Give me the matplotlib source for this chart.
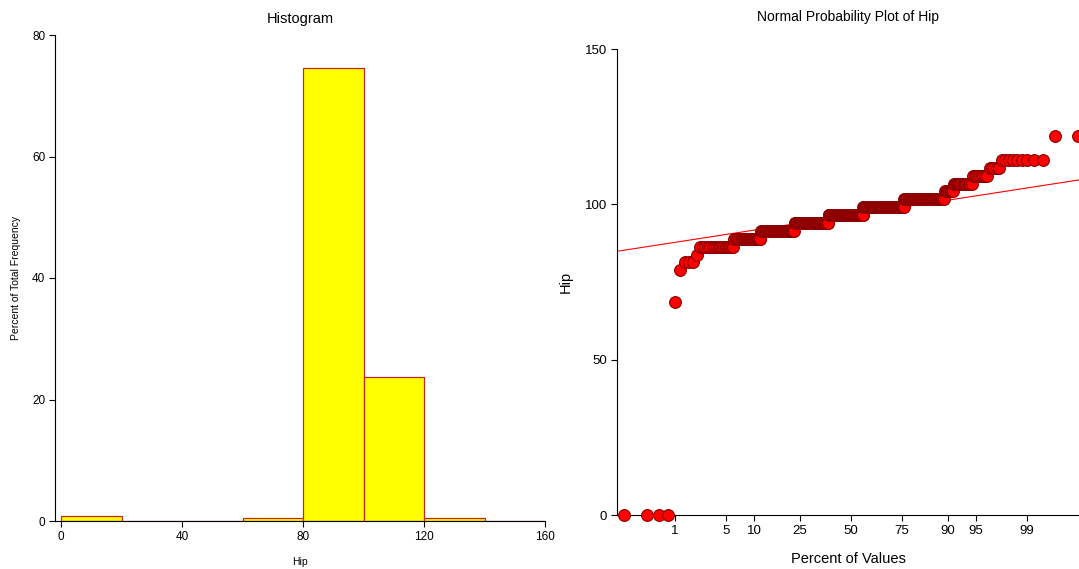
import numpy as np
import matplotlib
matplotlib.use("Agg")
import matplotlib.pyplot as plt
from statistics import NormalDist

plt.rcParams['font.family'] = ['Liberation Sans', 'DejaVu Sans']

hip_levels = [0.0, 68.58, 78.74, 81.28, 83.82, 86.36, 88.9, 91.44, 93.98, 96.52,
              99.06, 101.6, 104.14, 106.68, 109.22, 111.76, 114.3, 121.92]
hip_counts = [4, 1, 1, 3, 1, 18, 26, 51, 72, 84, 90, 62, 9, 16, 9, 5, 9, 2]

bin_edges = [0, 20, 40, 60, 80, 100, 120, 140, 160]
hist_xticks = [0, 40, 80, 120, 160]
hist_yticks = [0, 20, 40, 60, 80]
pct_ticks = [1, 5, 10, 25, 50, 75, 90, 95, 99]
npp_yticks = [0, 50, 100, 150]

hip = np.repeat(hip_levels, hip_counts)
n = len(hip)
nd = NormalDist()

fig = plt.figure(figsize=(10.79, 5.69), dpi=100)

# ---- histogram ----
ax1 = fig.add_axes([55/1079, 1-521/569, 490/1079, 486/569])
ax1.hist(hip, bins=bin_edges, weights=np.full(n, 100.0/n),
         color='#FFFF00', edgecolor='#C0282D', linewidth=0.9)
ax1.set_xlim(-2, 160)
ax1.set_ylim(0, 80)
ax1.set_xticks(hist_xticks)
ax1.set_yticks(hist_yticks)
ax1.spines['top'].set_visible(False)
ax1.spines['right'].set_visible(False)
ax1.tick_params(labelsize=8.5, length=4, width=0.8, pad=3)
ax1.set_title("Histogram", fontsize=10.5, pad=9)
ax1.set_xlabel("Hip", fontsize=7.5, labelpad=10)
ax1.set_ylabel("Percent of Total Frequency", fontsize=7.5, labelpad=8)

# ---- normal probability plot ----
ax2 = fig.add_axes([617/1079, 1-515/569, 462/1079, 466/569])
ranks = np.arange(1, n + 1)
z = np.array([nd.inv_cdf(p) for p in (ranks - 0.375) / (n + 0.25)])

q1, q3 = np.percentile(hip, [25, 75])
slope = (q3 - q1) / (2 * nd.inv_cdf(0.75))
ax2.axline((0, (q1 + q3) / 2), slope=slope, color='#FF0000', linewidth=0.8, zorder=2)

ax2.scatter(z, np.sort(hip), s=72, facecolor='#FF0000', edgecolor='#8B0000',
            linewidth=0.8, zorder=3, clip_on=False)

ax2.set_xlim(-3.09, 3.01)
ax2.set_ylim(0, 150)
ax2.set_xticks([nd.inv_cdf(p / 100) for p in pct_ticks])
ax2.set_xticklabels([str(p) for p in pct_ticks])
ax2.set_yticks(npp_yticks)
ax2.spines['top'].set_visible(False)
ax2.spines['right'].set_visible(False)
ax2.tick_params(labelsize=9.5, length=4, width=0.8, pad=3)
ax2.set_title("Normal Probability Plot of Hip", fontsize=10, pad=20)
ax2.set_xlabel("Percent of Values", fontsize=10.5, labelpad=11)
ax2.set_ylabel("Hip", fontsize=10.5, labelpad=9)

fig.savefig("out.png", dpi=100)
